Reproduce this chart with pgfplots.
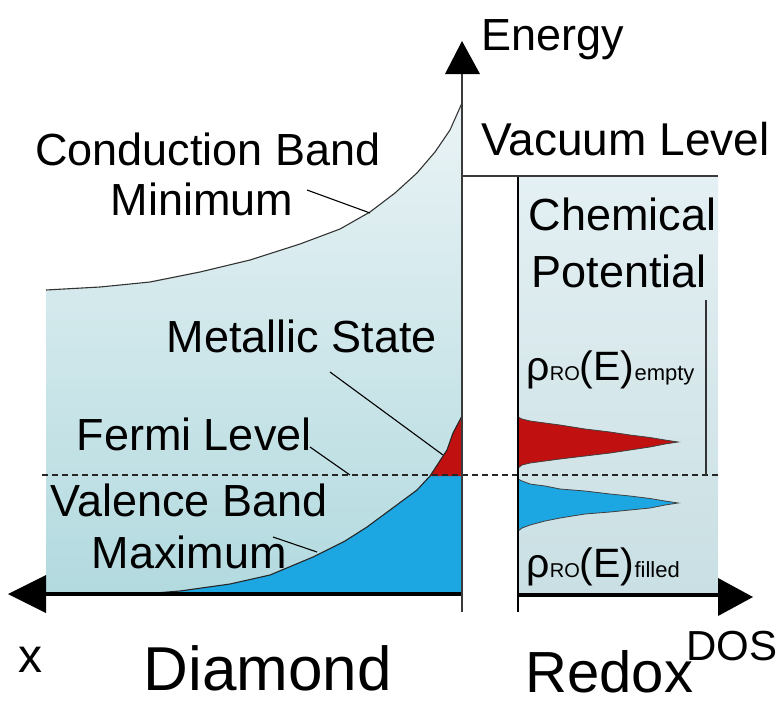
\documentclass[border=0pt]{standalone}
\usepackage{fontspec}
\setmainfont{Liberation Sans}
\usepackage{pgfplots}
\pgfplotsset{compat=1.18}

\definecolor{bgtop}{HTML}{EAF3F5}
\definecolor{bgbot}{HTML}{B2DADF}
\definecolor{rxtop}{HTML}{E4F0F3}
\definecolor{rxbot}{HTML}{C9DFE3}
\definecolor{vband}{HTML}{1CA6E2}
\definecolor{metal}{HTML}{C0100F}
\definecolor{axisgray}{HTML}{3A3A3A}
\definecolor{baseline}{HTML}{8FA5AA}

\newcommand\lab{\fontsize{45}{50}\selectfont}

\begin{document}
\begin{tikzpicture}
\begin{axis}[
  width=778pt, height=704pt, scale only axis,
  xmin=0, xmax=778, ymin=0, ymax=704, y dir=reverse,
  hide axis, clip=false,
  every node/.style={inner sep=0pt},
]
% diamond panel: region below the conduction band minimum
\addplot[draw=none, top color=bgtop, bottom color=bgbot] coordinates {
  (46,595) (46,290) (100,287) (150,282) (200,272) (250,260) (300,244)
  (340,229) (370,212) (395,193) (417,173) (435,152) (450,130) (462,103)
  (462,595)};
% redox panel background
\addplot[draw=none, top color=rxtop, bottom color=rxbot] coordinates {
  (518,176) (718,176) (718,595) (518,595)};

% filled valence band (capped at the Fermi level)
\addplot[draw=none, fill=vband] coordinates {
  (130,595) (180,591) (230,584) (270,575) (313,557) (345,541) (367,527)
  (390,510) (417,490) (430,476) (462,476) (462,595)};
% metallic state above the Fermi level
\addplot[draw=none, fill=metal] coordinates {
  (430,476) (447,450) (453,433) (462,416) (462,476)};
% valence band maximum curve
\addplot[black!85, line width=1.1pt] coordinates {
  (130,595) (180,591) (230,584) (270,575) (313,557) (345,541) (367,527)
  (390,510) (417,490) (430,476) (447,450) (453,433) (462,416)};
% conduction band minimum curve
\addplot[black!80, line width=1.1pt] coordinates {
  (46,290) (100,287) (150,282) (200,272) (250,260) (300,244)
  (340,229) (370,212) (395,193) (417,173) (435,152) (450,130) (462,103)};

% redox densities of states
\addplot[fill=metal, draw=black!75, line width=0.8pt] coordinates {
  (518,417) (522,419) (530,421) (545,423) (560,425) (585,429) (610,432)
  (630,435) (650,437.5) (665,440) (678,442)
  (665,444) (650,447) (630,450) (610,453) (585,456) (560,459) (545,461)
  (530,463) (522,465) (518,468)};
\addplot[fill=vband, draw=black!75, line width=0.8pt] coordinates {
  (518,479) (522,481) (530,484) (545,486) (560,489) (585,491) (610,494)
  (630,496) (650,498.5) (665,501) (678,503)
  (665,505) (650,508) (630,510) (610,512) (585,514) (560,518) (545,521)
  (530,525) (522,528) (518,531)};

% Fermi level
\addplot[black!85, line width=1.6pt, dash pattern=on 6pt off 4pt] coordinates {(42,475) (718,475)};

% axes and panel borders
\addplot[black, line width=3.5pt] coordinates {(44,594) (462,594)};
\addplot[baseline, line width=4pt] coordinates {(518,595) (718,595)};
\addplot[axisgray, line width=2pt] coordinates {(462,612) (462,72)};
\addplot[black, line width=2.5pt] coordinates {(518,612) (518,176)};
\addplot[axisgray, line width=2pt] coordinates {(462,176) (718,176)};
\addplot[black!80, line width=1.8pt] coordinates {(706,300) (706,475)};

% arrow heads
\addplot[fill=black, draw=none] coordinates {(445,74) (480,74) (462,41)};
\addplot[fill=black, draw=none] coordinates {(46,575) (46,613) (8,594)};
\addplot[fill=black, draw=none] coordinates {(718,578) (718,616) (753,597)};

% leader lines
\addplot[black, line width=1.1pt] coordinates {(307,190) (370,213)};
\addplot[black, line width=1.1pt] coordinates {(330,372) (443,455)};
\addplot[black, line width=1.1pt] coordinates {(310,447) (350,475)};
\addplot[black, line width=1.1pt] coordinates {(273,537) (317,552)};

% labels
\node[anchor=base west, font=\lab] at (axis cs:478,50) {Energy};
\node[anchor=base, font=\lab] at (axis cs:208,165) {Conduction Band};
\node[anchor=base, font=\lab] at (axis cs:202,215) {Minimum};
\node[anchor=base west, font=\lab] at (axis cs:163,352) {Metallic State};
\node[anchor=base west, font=\lab] at (axis cs:73,450) {Fermi Level};
\node[anchor=base west, font=\lab] at (axis cs:47,516) {Valence Band};
\node[anchor=base west, font=\lab] at (axis cs:88,568) {Maximum};
\node[anchor=base west, font=\fontsize{46}{50}\selectfont] at (axis cs:478,155) {Vacuum Level};
\node[anchor=base west, font=\lab] at (axis cs:525,230) {Chemical};
\node[anchor=base west, font=\lab] at (axis cs:528,287) {Potential};
\node[anchor=base west] at (axis cs:523,380)
  {\fontsize{41}{44}\selectfont ρ\fontsize{20}{22}\selectfont RO\fontsize{41}{44}\selectfont(E)\fontsize{22}{24}\selectfont empty};
\node[anchor=base west] at (axis cs:523,577)
  {\fontsize{41}{44}\selectfont ρ\fontsize{20}{22}\selectfont RO\fontsize{41}{44}\selectfont(E)\fontsize{22}{24}\selectfont filled};
\node[anchor=base west, font=\fontsize{42}{46}\selectfont] at (axis cs:683,660) {DOS};
\node[anchor=base west, font=\fontsize{58}{62}\selectfont] at (axis cs:522,692) {Redox};
\node[anchor=base west, font=\fontsize{62}{66}\selectfont] at (axis cs:140,690) {Diamond};
\node[anchor=base west, font=\fontsize{48}{52}\selectfont] at (axis cs:15,672) {x};
\end{axis}
\pgfresetboundingbox
\path (current axis.south west) rectangle (current axis.north east);
\end{tikzpicture}
\end{document}
